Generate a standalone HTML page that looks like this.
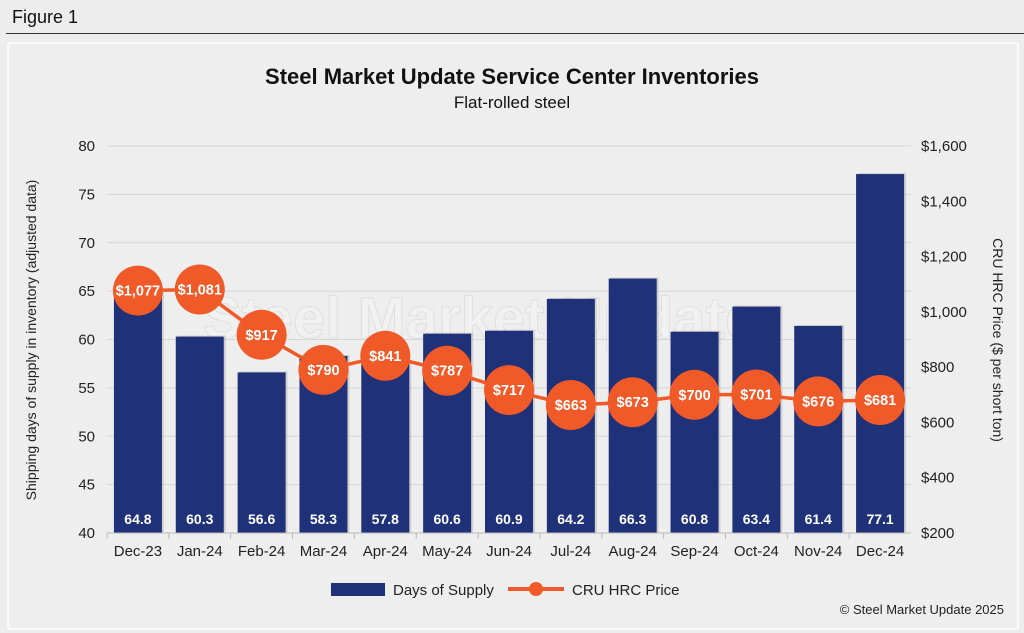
<!DOCTYPE html>
<html><head><meta charset="utf-8"><style>
body{margin:0;width:1024px;height:633px;background:#ededed;font-family:"Liberation Sans",sans-serif;overflow:hidden;position:relative}
#hdr{position:absolute;left:12px;top:7px;font-size:18px;color:#111}
#rule{position:absolute;left:6px;right:0;top:33px;height:1px;background:#333}
#panel{position:absolute;left:7px;top:42px;width:1008px;height:584px;border:2px solid #fafafa;border-radius:3px;background:#eeeeee}
svg{position:absolute;left:0;top:0}
</style></head><body>
<div id="hdr">Figure 1</div>
<div id="rule"></div>
<div id="panel"></div>
<svg id="chart" width="1024" height="633"></svg>
<script>
const categories=["Dec-23","Jan-24","Feb-24","Mar-24","Apr-24","May-24","Jun-24","Jul-24","Aug-24","Sep-24","Oct-24","Nov-24","Dec-24"];
const daysSupply=[64.8,60.3,56.6,58.3,57.8,60.6,60.9,64.2,66.3,60.8,63.4,61.4,77.1];
const hrcPrice=[1077,1081,917,790,841,787,717,663,673,700,701,676,681];
const leftTicks=[40,45,50,55,60,65,70,75,80];
const rightTicks=[200,400,600,800,1000,1200,1400,1600];

const NS="http://www.w3.org/2000/svg";
const svg=document.getElementById('chart');
const X0=107,X1=911,Y0=533,Y1=146;
const step=(X1-X0)/categories.length;
const xC=i=>X0+step*(i+0.5);
const yL=v=>Y0-(v-40)/40*(Y0-Y1);
const yR=v=>Y0-(v-200)/1400*(Y0-Y1);
function el(t,a,txt){const e=document.createElementNS(NS,t);for(const k in a)e.setAttribute(k,a[k]);if(txt!==undefined)e.textContent=txt;svg.appendChild(e);return e;}
const fmt=v=>'$'+v.toLocaleString('en-US');

let e;
e=el('text',{x:512,y:84,'text-anchor':'middle','font-size':22,'font-weight':'bold',fill:'#111'},'Steel Market Update Service Center Inventories');


e=el('text',{x:512,y:108,'text-anchor':'middle','font-size':17,fill:'#111'},'Flat-rolled steel');



leftTicks.forEach(v=>{
  const g=el('line',{x1:X0,x2:X1,y1:yL(v),y2:yL(v),stroke:'#d6d6d6','stroke-width':1});
  
  
  const t=el('text',{x:95,y:yL(v)+5,'text-anchor':'end','font-size':15,fill:'#222'},v);
  
  
});
rightTicks.forEach(v=>{
  const t=el('text',{x:921,y:yR(v)+5,'text-anchor':'start','font-size':15,fill:'#222'},fmt(v));
  
  
});
// watermark
e=el('text',{x:480,y:338,'text-anchor':'middle','font-size':58,'font-weight':'bold',fill:'#ffffff','fill-opacity':0.18,stroke:'#d0d0d0','stroke-opacity':0.5,'stroke-width':1},'Steel Market Update');



categories.forEach((c,i)=>{
  const s=el('rect',{x:xC(i)-22,y:yL(daysSupply[i])-1,width:48,height:Y0-yL(daysSupply[i])+1,fill:'#999','fill-opacity':0.35});
  
  
  const b=el('rect',{x:xC(i)-24,y:yL(daysSupply[i]),width:48,height:Y0-yL(daysSupply[i]),fill:'#1f3179'});
  
  
  const t=el('text',{x:xC(i),y:524,'text-anchor':'middle','font-size':14,'font-weight':'bold',fill:'#fff'},daysSupply[i].toFixed(1));
  
  
  const l=el('text',{x:xC(i),y:556,'text-anchor':'middle','font-size':15,fill:'#222'},c);
  
  
  const tk=el('line',{x1:X0+step*i,x2:X0+step*i,y1:Y0,y2:Y0+6,stroke:'#bbb'});
  
  
});
e=el('line',{x1:X0,x2:X1,y1:Y0,y2:Y0,stroke:'#bbb'});



const pts=hrcPrice.map((v,i)=>xC(i)+','+yR(v)).join(' ');
e=el('polyline',{points:pts,fill:'none',stroke:'#ef5a28','stroke-width':3.5});


hrcPrice.forEach((v,i)=>{
  const c=el('circle',{cx:xC(i),cy:yR(v),r:25,fill:'#ef5a28'});
  
  
  const t=el('text',{x:xC(i),y:yR(v)+5,'text-anchor':'middle','font-size':14.5,'font-weight':'bold',fill:'#fff'},fmt(v));
  
  
});

e=el('text',{x:0,y:0,transform:'translate(36,340) rotate(-90)','text-anchor':'middle','font-size':14,fill:'#222'},'Shipping days of supply in inventory (adjusted data)');


e=el('text',{x:0,y:0,transform:'translate(993,340) rotate(90)','text-anchor':'middle','font-size':14,fill:'#222'},'CRU HRC Price ($ per short ton)');



e=el('rect',{x:331,y:583,width:54,height:13,fill:'#1f3179'});


e=el('text',{x:393,y:595,'font-size':15,fill:'#222'},'Days of Supply');


e=el('line',{x1:508,x2:564,y1:589,y2:589,stroke:'#ef5a28','stroke-width':4});


e=el('circle',{cx:536,cy:589,r:7,fill:'#ef5a28'});


e=el('text',{x:572,y:595,'font-size':15,fill:'#222'},'CRU HRC Price');


e=el('text',{x:1004,y:614,'text-anchor':'end','font-size':13,fill:'#222'},'© Steel Market Update 2025');


</script>
</body></html>
